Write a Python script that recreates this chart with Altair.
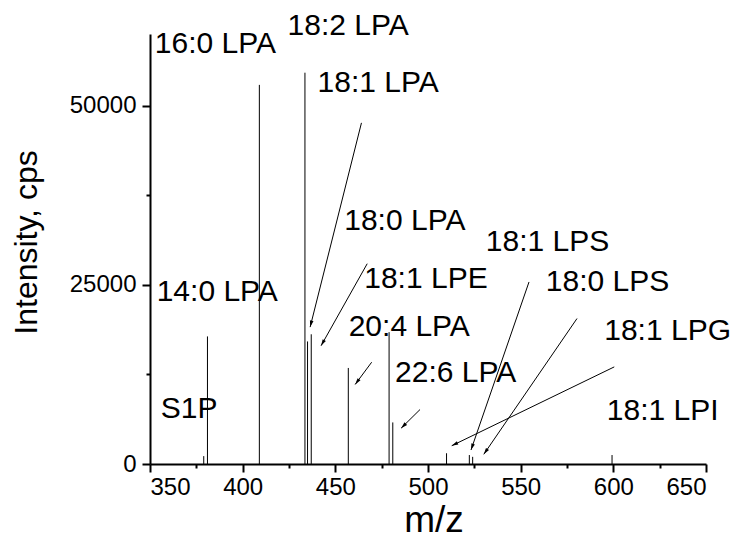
import math
import altair as alt
import pandas as pd

# Spectrum peaks (m/z, intensity in cps)
peak_mz = [379, 381, 409, 433.6, 435, 437, 457, 479, 481, 510, 522.3, 524.1, 599.3]
peak_int = [1100, 17800, 52900, 54600, 17100, 18100, 13400, 18400, 5800, 1500, 1250, 1000, 1250]

# Annotation labels (anchor in data units: m/z, intensity at text baseline)
label_text = ["16:0 LPA", "18:2 LPA", "18:1 LPA", "18:0 LPA", "18:1 LPE", "20:4 LPA",
              "22:6 LPA", "14:0 LPA", "S1P", "18:1 LPS", "18:0 LPS", "18:1 LPG", "18:1 LPI"]
label_x = [352.6, 424.2, 440.4, 454.8, 465.6, 457.2, 482.2, 353.6, 355.8, 531.2, 563.6, 595.1, 596.5]
label_y = [57400, 59800, 51900, 32600, 24500, 17900, 11400, 22800, 6400, 29700, 24100, 17300, 6200]

# Arrows (start -> end, data units)
arrow_x1 = [464.1, 467.2, 469.6, 495.7, 554.5, 580.4, 600.5]
arrow_y1 = [47600, 27950, 14200, 7600, 25400, 20300, 13550]
arrow_x2 = [436.4, 442.3, 460.7, 485.5, 523.2, 530.1, 512.8]
arrow_y2 = [19100, 16500, 11100, 5000, 1950, 1350, 2550]

W, H = 556, 430
X_DOM = [350, 650]
Y_DOM = [0, 60000]
FONT = "Liberation Sans"

peaks = pd.DataFrame({"mz": peak_mz, "intensity": peak_int})
labels = pd.DataFrame({"text": label_text, "x": label_x, "y": label_y})

sx = W / (X_DOM[1] - X_DOM[0])
sy = H / (Y_DOM[1] - Y_DOM[0])
angles = []
for a, b, c, d in zip(arrow_x1, arrow_y1, arrow_x2, arrow_y2):
    dx = (c - a) * sx
    dy = -(d - b) * sy
    angles.append(math.degrees(math.atan2(dx, -dy)) % 360)
arrows = pd.DataFrame({"x1": arrow_x1, "y1": arrow_y1, "x2": arrow_x2, "y2": arrow_y2, "angle": angles})

xscale = alt.Scale(domain=X_DOM, nice=False, zero=False)
yscale = alt.Scale(domain=Y_DOM, nice=False)

xaxis = alt.Axis(
    values=list(range(350, 651, 25)),
    tickSize=alt.ExprRef("datum.value % 50 === 0 ? 8 : 4"),
    labelExpr="datum.value % 50 === 0 ? datum.label : ''",
    labelOverlap=False,
    labelPadding=3,
    title="m/z",
    titleX=283.5,
    titleY=67,
    titleBaseline="alphabetic",
    titleAlign="center",
    titleFontSize=37,
)
yaxis = alt.Axis(
    values=list(range(0, 60001, 12500)),
    tickSize=alt.ExprRef("datum.value % 25000 === 0 ? 8 : 4"),
    labelExpr="datum.value % 25000 === 0 ? datum.label : ''",
    labelOverlap=False,
    format="d",
    labelPadding=6,
    title="Intensity, cps",
    titleAngle=270,
    titleX=-114,
    titleY=208,
    titleBaseline="alphabetic",
    titleAlign="center",
    titleFontSize=32,
)

rules = alt.Chart(peaks).mark_rule(color="black", strokeWidth=1).encode(
    x=alt.X("mz:Q", scale=xscale, axis=xaxis),
    y=alt.Y("intensity:Q", scale=yscale, axis=yaxis),
    y2=alt.datum(0),
)

text = alt.Chart(labels).mark_text(
    align="left", baseline="alphabetic", font=FONT, fontSize=30, color="black"
).encode(x="x:Q", y="y:Q", text="text:N")

arrow_lines = alt.Chart(arrows).mark_rule(color="black", strokeWidth=1).encode(
    x="x1:Q", y="y1:Q", x2="x2:Q", y2="y2:Q"
)

heads = alt.Chart(arrows).mark_point(
    shape="M0,0L-0.28,1L0.28,1Z", filled=True, color="black", opacity=1, size=170
).encode(x="x2:Q", y="y2:Q", angle=alt.Angle("angle:Q", scale=None))

chart = alt.layer(rules, arrow_lines, heads, text).properties(
    width=W, height=H,
    autosize=alt.AutoSizeParams(type="none"),
    padding={"left": 142, "top": 26, "right": 26, "bottom": 75},
).configure_view(stroke=None).configure_axis(
    domainColor="black", domainWidth=2, tickColor="black", tickWidth=2,
    grid=False, labelFont=FONT, labelFontSize=24, labelColor="black",
    titleFont=FONT, titleFontSize=38, titleFontWeight="normal", titleColor="black",
)

chart.save("out.html", embed_options={"renderer": "svg", "actions": False})
